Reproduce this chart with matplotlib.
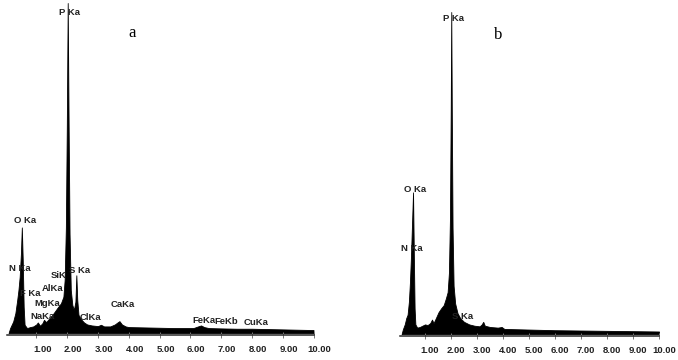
import matplotlib
matplotlib.use("Agg")
import matplotlib.pyplot as plt
from matplotlib.transforms import ScaledTranslation

# ---------------- data (energy keV, relative counts) ----------------
energy_a = [0.10, 0.15, 0.25, 0.32, 0.38, 0.42, 0.46, 0.50, 0.53, 0.56, 0.59, 0.62,
            0.70, 0.80, 0.90, 1.00, 1.05, 1.12, 1.20, 1.25, 1.32, 1.40, 1.50, 1.60,
            1.70, 1.80, 1.88, 1.92, 1.96, 1.99, 2.02, 2.05, 2.08, 2.12, 2.17, 2.22,
            2.27, 2.30, 2.33, 2.37, 2.45, 2.55, 2.65, 2.80, 3.00, 3.10, 3.20, 3.40,
            3.55, 3.65, 3.70, 3.78, 3.90, 4.00, 4.50, 5.00, 5.50, 6.10, 6.25, 6.35,
            6.45, 6.60, 7.00, 7.50, 8.00, 8.50, 9.00, 9.50, 10.00]
counts_a = [0.0, 1.5, 3.5, 6.0, 10.0, 13.0, 17.0, 24.0, 32.0, 22.0, 8.0, 2.5,
            1.5, 1.8, 2.0, 2.6, 3.2, 2.2, 3.0, 4.0, 3.3, 4.2, 5.2, 6.5,
            7.8, 9.0, 11.0, 16.0, 32.0, 62.0, 100.0, 62.0, 30.0, 13.0, 8.5, 7.0,
            9.5, 17.5, 10.0, 5.5, 4.2, 3.2, 2.6, 2.3, 2.1, 2.5, 2.0, 2.0,
            2.6, 3.3, 3.6, 2.6, 2.0, 1.8, 1.7, 1.6, 1.5, 1.5, 2.0, 2.3,
            1.8, 1.5, 1.4, 1.3, 1.3, 1.2, 1.1, 1.0, 0.9]

energy_b = [0.10, 0.15, 0.22, 0.28, 0.33, 0.38, 0.42, 0.46, 0.50, 0.54, 0.57, 0.60,
            0.63, 0.70, 0.80, 0.90, 1.00, 1.10, 1.20, 1.27, 1.33, 1.42, 1.52, 1.62,
            1.72, 1.80, 1.87, 1.92, 1.96, 1.99, 2.01, 2.03, 2.06, 2.10, 2.16, 2.25,
            2.35, 2.50, 2.70, 2.90, 3.10, 3.18, 3.24, 3.30, 3.50, 3.80, 3.95, 4.05,
            5.00, 6.00, 7.00, 8.00, 9.00, 10.00]
counts_b = [0.0, 1.5, 3.0, 5.0, 6.0, 10.0, 16.0, 24.0, 34.0, 44.0, 25.0, 8.0,
            3.0, 2.0, 2.2, 2.6, 3.0, 2.8, 3.4, 4.5, 3.4, 5.0, 6.8, 8.0,
            9.0, 11.0, 13.0, 19.0, 36.0, 70.0, 100.0, 70.0, 33.0, 15.0, 9.5, 6.5,
            5.0, 3.8, 3.0, 2.6, 2.4, 3.0, 3.8, 2.6, 2.2, 2.0, 2.2, 1.6,
            1.4, 1.2, 1.1, 1.0, 0.9, 0.8]

tick_values = [1, 2, 3, 4, 5, 6, 7, 8, 9, 10]
tick_labels = ["1.00", "2.00", "3.00", "4.00", "5.00", "6.00", "7.00", "8.00", "9.00", "10.00"]

labels_a = ["P Ka", "O Ka", "N Ka", "F Ka", "SiK", "S Ka", "AlKa", "MgKa", "NaKa",
            "ClKa", "CaKa", "FeKa", "FeKb", "CuKa"]
label_pos_a = [(2.08, 97), (0.63, 34), (0.47, 19.5), (0.80, 12), (1.73, 17.5),
               (2.42, 19), (1.54, 13.5), (1.35, 9), (1.20, 5), (2.75, 4.8),
               (3.82, 8.5), (6.45, 3.8), (7.15, 3.5), (8.15, 3.2)]
labels_b = ["P Ka", "O Ka", "N Ka", "S Ka"]
label_pos_b = [(2.08, 98), (0.63, 45), (0.48, 26.5), (2.43, 5.5)]

fam = ["Liberation Sans Narrow", "Liberation Sans", "DejaVu Sans"]

fig = plt.figure(figsize=(6.78, 3.60), dpi=100)
fig.patch.set_facecolor("white")

W, H = 678.0, 360.0


def make_axes(x0, x10, y_axis, y_top):
    return fig.add_axes([x0 / W, (H - y_axis) / H, (x10 - x0) / W, (y_axis - y_top) / H])


ax_a = make_axes(5.5, 313.5, 335, 3)
ax_b = make_axes(399, 659, 336, 12)

panels = [
    (ax_a, energy_a, counts_a, labels_a, label_pos_a, "a", (4.1, 91), 6),
    (ax_b, energy_b, counts_b, labels_b, label_pos_b, "b", (3.8, 93), 5),
]

for ax, e, c, labs, lpos, tag, tagpos, dx in panels:
    ax.fill_between(e, 0, c, color="black", linewidth=0.6, edgecolor="black", clip_on=False)
    ax.set_xlim(0, 10)
    ax.set_ylim(-0.6, 100)
    for s in ["top", "right", "left"]:
        ax.spines[s].set_visible(False)
    ax.spines["bottom"].set_bounds(0.05, 10)
    ax.spines["bottom"].set_color("#2a2a2a")
    ax.spines["bottom"].set_linewidth(1.1)
    ax.set_yticks([])
    ax.set_xticks(tick_values)
    ax.set_xticklabels(tick_labels, family=fam, fontsize=6.8, fontweight="bold", color="#222222")
    ax.tick_params(axis="x", direction="inout", length=5, width=0.7, color="#777777", pad=5)
    off = ScaledTranslation(dx / 100.0, 0, fig.dpi_scale_trans)
    for lbl in ax.get_xticklabels():
        lbl.set_transform(lbl.get_transform() + off)
    ax.patch.set_alpha(0)
    for t, (x, y) in zip(labs, lpos):
        ax.text(x, y, t, family=fam, fontsize=6.8, fontweight="bold", color="#222222",
                ha="center", va="center")
    ax.text(tagpos[0], tagpos[1], tag, family=["Liberation Serif", "DejaVu Serif"],
            fontsize=12, color="black", ha="center", va="center")

fig.savefig("out.png", dpi=100, facecolor="white")
